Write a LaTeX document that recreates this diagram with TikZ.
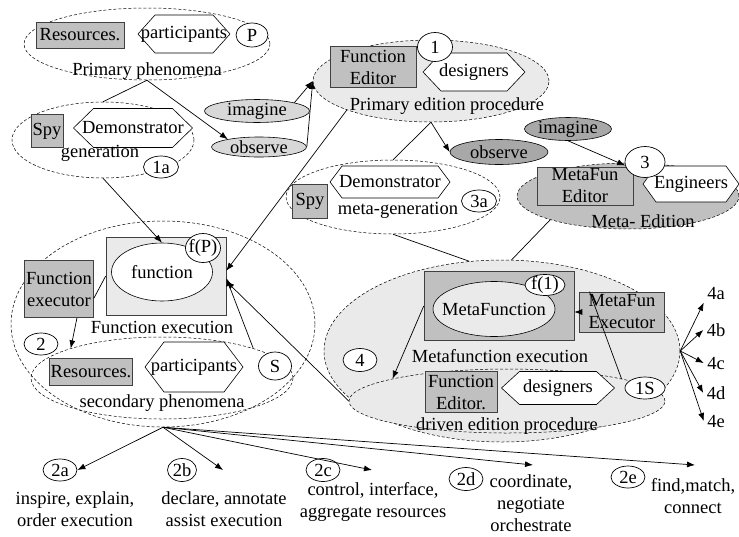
\documentclass[tikz,border=0pt]{standalone}
\usepackage{fontspec}
\setmainfont{Liberation Serif}
\usetikzlibrary{shapes.geometric, arrows.meta}
\definecolor{boxGray}{RGB}{192,192,192}
\definecolor{paleGray}{RGB}{234,234,234}
\definecolor{deepGray}{RGB}{168,168,168}
\definecolor{dotGray}{RGB}{216,216,216}
\tikzstyle{diagram} = [x = 1pt, y = -1pt, font=\fontsize{18.5}{22}\selectfont]
\tikzstyle{phenomenon} = [ellipse, draw, dash pattern=on 3pt off 2pt, line width=0.5pt, inner sep=0pt]
\tikzstyle{roleBox} = [draw=black!75, fill=boxGray, align=center, inner sep=1pt, line width=0.6pt]
\tikzstyle{tag} = [ellipse, draw, fill=white, inner sep=0pt, line width=0.7pt]
\tikzstyle{activity} = [ellipse, draw, inner sep=0pt, line width=0.6pt]
\tikzstyle{hexStyle} = [draw, fill=white, line width=0.6pt]
\tikzstyle{link} = [line width=0.7pt]
\tikzstyle{arrowLink} = [line width=0.7pt, -{Latex[length=8pt, width=6pt]}]
\tikzset{centerText/.style={label={center:#1}}}
\newcommand{\hexagonNode}[7]{\filldraw [hexStyle] (#2 - #4/2, #3) -- (#2 - #4/2 + #6, #3 - #5/2) -- (#2 + #4/2 - #6, #3 - #5/2) -- (#2 + #4/2, #3) -- (#2 + #4/2 - #6, #3 + #5/2) -- (#2 - #4/2 + #6, #3 + #5/2) -- cycle; \node (#1) at (#2, #3) {#7};}
\begin{document}
\begin{tikzpicture}[diagram]
  \useasboundingbox (0,0) rectangle (739,536);

  \node[phenomenon, minimum width=246, minimum height=72] (primPhen) at (147,44) {};
  \node[roleBox, minimum width=88, minimum height=26] (primRes) at (80,35) {Resources.};
  \hexagonNode{primPart}{184}{34}{92}{38}{17}{participants}
  \node[tag, minimum width=32, minimum height=24] (tagP) at (252,35) {P};
  \node (primPhenText) at (147,71) {Primary phenomena};

  \node[phenomenon, minimum width=182, minimum height=76] (demoGen) at (103,140) {};
  \node[roleBox, minimum width=32, minimum height=33] (genSpy) at (47,131) {Spy};
  \hexagonNode{genDemo}{133}{128}{119}{39}{20}{Demonstrator}
  \node (demoGenText) at (100,153) {generation};
  \node[tag, minimum width=35, minimum height=22] (tag1a) at (161,167) {1a};

  \node[activity, fill=dotGray, minimum width=105, minimum height=22] (imagineA) at (257,111) {imagine};
  \node[activity, fill=dotGray, minimum width=95, minimum height=20] (observeA) at (259,147) {observe};

  \node[phenomenon, fill=paleGray, minimum width=236, minimum height=82] (primEdit) at (431,81) {};
  \node[roleBox, minimum width=86, minimum height=41] (primEditor) at (373,67) {Function\\Editor};
  \hexagonNode{primDesigners}{474}{72}{102}{38}{18}{designers}
  \node[tag, minimum width=35, minimum height=29] (tag1) at (435,47) {1};
  \node (primEditText) at (447,106) {Primary edition procedure};

  \node[activity, fill=deepGray, minimum width=98, minimum height=25] (observeB) at (499,152) {observe};
  \node[activity, fill=deepGray, minimum width=87, minimum height=22] (imagineB) at (568,129) {imagine};

  \node[phenomenon, fill=boxGray, minimum width=222, minimum height=66] (metaEdit) at (628,196) {};
  \node[roleBox, minimum width=96, minimum height=38] (metaEditor) at (585,186) {MetaFun\\Editor};
  \hexagonNode{engineers}{691}{184}{96}{36}{13}{Engineers}
  \node[tag, minimum width=40, minimum height=31] (tag3) at (645,162) {3};
  \node (metaEditText) at (643,221) {Meta- Edition};

  \node[phenomenon, minimum width=214, minimum height=74] (metaGen) at (393,197) {};
  \node[roleBox, minimum width=35, minimum height=34] (metaSpy) at (310,201) {Spy};
  \hexagonNode{metaDemo}{390}{182}{120}{32}{12}{Demonstrator}
  \node (metaGenText) at (398,210) {meta-generation};
  \node[tag, minimum width=35, minimum height=22] (tag3a) at (479,201) {3a};

  \node[phenomenon, minimum width=304, minimum height=206] (funcExec) at (163,324) {};
  \node[draw=black!75, fill=paleGray, line width=0.6pt, minimum width=120, minimum height=78] (funcBox) at (166,276) {};
  \node[activity, fill=white, minimum width=101, minimum height=58] (funcEll) at (162,272) {function};
  \node[tag, minimum width=35, minimum height=29, centerText={f(P)}] (tagFP) at (203,248) {};
  \node[roleBox, minimum width=69, minimum height=57] (funcExecutor) at (59,289) {Function\\executor};
  \node (funcExecText) at (162,327) {Function execution};
  \node[tag, minimum width=34, minimum height=22] (tag2) at (41,344) {2};
  \node[phenomenon, minimum width=262, minimum height=82] (secPhen) at (162,378) {};
  \node[roleBox, minimum width=79, minimum height=27] (secRes) at (91,372) {Resources.};
  \hexagonNode{secPart}{194}{367}{98}{50}{19}{participants}
  \node[tag, minimum width=33, minimum height=28] (tagS) at (275,366) {S};
  \node (secPhenText) at (162,403) {secondary phenomena};

  \node[phenomenon, fill=paleGray, minimum width=356, minimum height=182] (metaExec) at (502,351) {};
  \node[phenomenon, fill=paleGray, minimum width=316, minimum height=64] (drivenEdit) at (507,401) {};
  \node[roleBox, minimum width=150, minimum height=69] (metaBox) at (499,306) {};
  \node[activity, fill=paleGray, minimum width=122, minimum height=55, centerText=MetaFunction] (metaFunc) at (494,309) {};
  \node[tag, minimum width=40, minimum height=21, centerText={f(1)}] (tagF1) at (545,285) {};
  \node[roleBox, minimum width=85, minimum height=40] (mfExecutor) at (622,312) {MetaFun\\Executor};
  \node (metaExecText) at (500,356) {Metafunction execution};
  \node[tag, minimum width=34, minimum height=23] (tag4) at (360,360) {4};
  \node[roleBox, minimum width=72, minimum height=41] (drivenEditor) at (461,392) {Function\\Editor.};
  \hexagonNode{drivenDesigners}{558}{388}{113}{33}{18}{designers}
  \node[tag, minimum width=40, minimum height=22] (tag1S) at (645,388) {1S};
  \node (drivenEditText) at (507,426) {driven edition procedure};

  \foreach \tagName/\ypos in {4a/293, 4b/330, 4c/363, 4d/393, 4e/421}
    \node (out\tagName) at (716,\ypos) {\tagName};

  \node[tag, minimum width=34, minimum height=22] (tag2a) at (60,470) {2a};
  \node[tag, minimum width=29, minimum height=23] (tag2b) at (182,470) {2b};
  \node[tag, minimum width=34, minimum height=23] (tag2c) at (323,470) {2c};
  \node[tag, minimum width=34, minimum height=23] (tag2d) at (466,479) {2d};
  \node[tag, minimum width=34, minimum height=22] (tag2e) at (628,477) {2e};
  \node[align=center] (role2a) at (75,509) {inspire, explain,\\order execution};
  \node[align=center] (role2b) at (224,509) {declare, annotate\\assist execution};
  \node[align=center] (role2c) at (373,502) {control, interface,\\aggregate resources};
  \node[align=center] (role2d) at (531,503) {coordinate,\\negotiate\\orchestrate};
  \node[align=center] (role2e) at (693,496) {find,match,\\connect};
  \coordinate (end2b) at (223,470);
  \coordinate (end2c) at (372,470);
  \coordinate (end2d) at (533,465);
  \coordinate (end2e) at (695,465);

  \draw[link] (primPhen.south) -- (demoGen.north);
  \draw[arrowLink] (primPhen.south) -- (observeA.166);
  \draw[arrowLink] (imagineA.north east) -- (primEdit.west);
  \draw[arrowLink] (observeA.east) -- (primEdit.west);
  \draw[arrowLink] (primEdit.199) -- (funcBox.5);
  \draw[arrowLink] (demoGen.south) -- (funcEll.north);
  \draw[arrowLink] (primEdit.south) -- (observeB.west);
  \draw[link] (primEdit.south) -- (metaGen.north);
  \draw[arrowLink] (imagineB.south) -- (tag3.190);
  \draw[link] (metaGen.south) -- (metaExec.110);
  \draw[link] (metaEdit.197) -- (metaExec.84);
  \draw[link] (funcExecutor.-15) -- (funcBox.west);
  \draw[arrowLink] (funcExecutor.-58) -- (secPhen.162);
  \draw[arrowLink] (secPhen.18) -- (funcBox.-2);
  \draw[arrowLink] (drivenEdit.west) -- (funcBox.-5);
  \draw[arrowLink] (metaBox.west) -- (drivenEdit.169);
  \draw[link] (drivenEdit.11) -- (mfExecutor.148);
  \draw[arrowLink] (mfExecutor.west) -- (mfExecutor.west -| metaBox.east);
  \draw[arrowLink] (metaExec.east) -- (out4a.south west);
  \foreach \tagName in {4b, 4c, 4d, 4e}
    \draw[arrowLink] (metaExec.east) -- (out\tagName.west);
  \draw[arrowLink] (funcExec.south) -- (tag2a.east);
  \foreach \tip in {2b, 2c, 2d, 2e}
    \draw[arrowLink] (funcExec.south) -- (end\tip);
\end{tikzpicture}
\end{document}
